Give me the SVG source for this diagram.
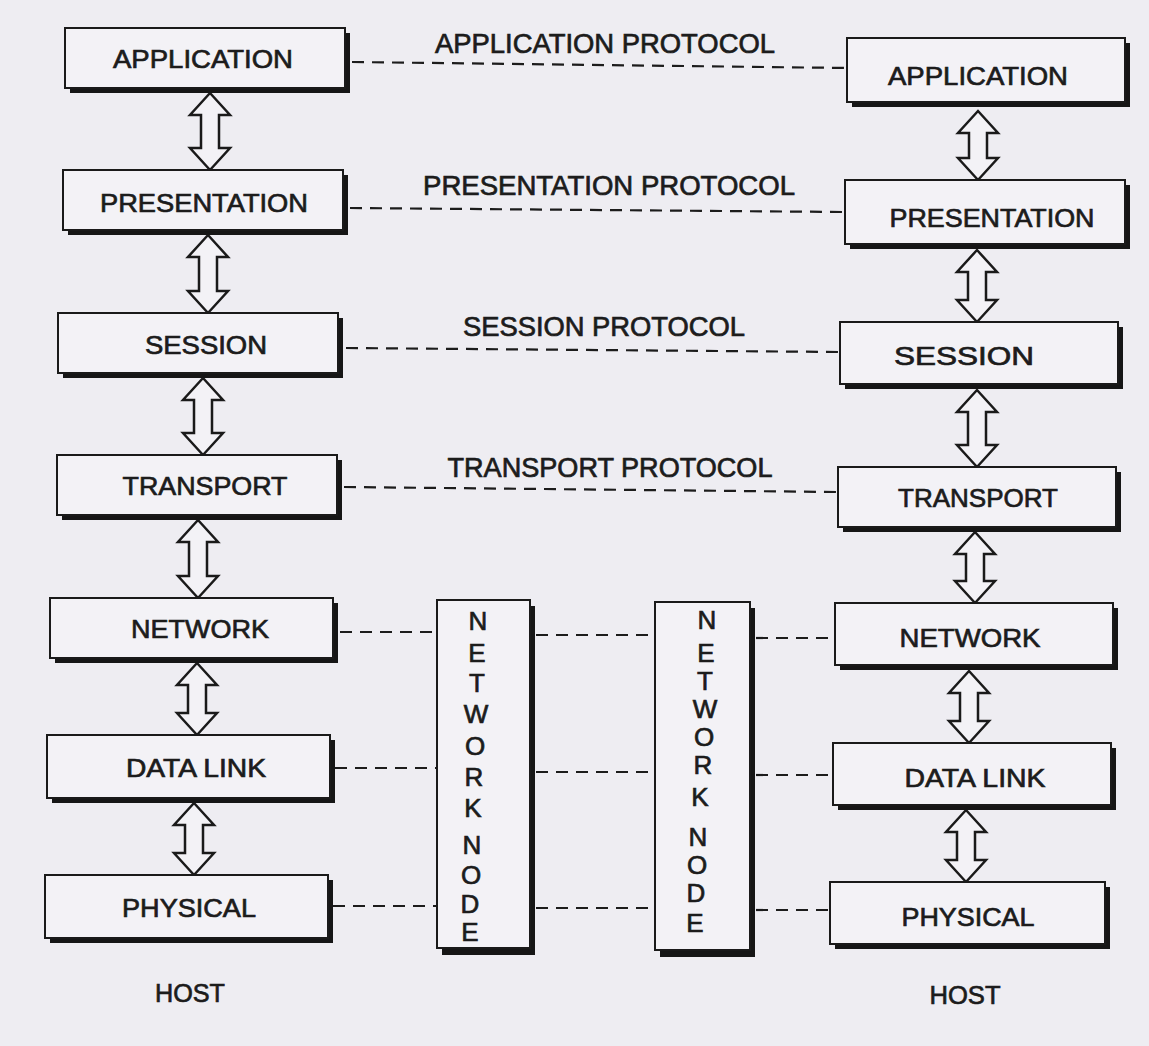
<svg xmlns="http://www.w3.org/2000/svg" width="1149" height="1046" viewBox="0 0 1149 1046">
<style>
  .bg { fill: #eeedf2; }
  .shadow { fill: #161616; }
  .box { fill: #f3f2f6; stroke: #1a1a1a; stroke-width: 2; }
  .lbl { font-family: "Liberation Sans", Arial, sans-serif; font-size: 26px; fill: #1c1c1c; stroke: #1c1c1c; stroke-width: 0.7; text-anchor: middle; }
  .proto { font-family: "Liberation Sans", Arial, sans-serif; font-size: 27px; fill: #1c1c1c; stroke: #1c1c1c; stroke-width: 0.7; text-anchor: middle; }
  .letter { font-family: "Liberation Sans", Arial, sans-serif; font-size: 26px; fill: #1c1c1c; stroke: #1c1c1c; stroke-width: 0.7; text-anchor: middle; dominant-baseline: central; }
  .dash { fill: none; stroke: #1c1c1c; stroke-width: 2.2; stroke-dasharray: 12 8; }
  .arrow { fill: #f3f2f6; stroke: #1a1a1a; stroke-width: 2.5; stroke-linejoin: miter; }
</style>
<rect class="bg" x="0" y="0" width="1149" height="1046"/>

<!-- Connectors -->
<g id="connectors">
  <!-- protocol dashed lines -->
  <path class="dash" d="M 352 62 L 847 68"/>
  <path class="dash" d="M 350 208 L 845 212"/>
  <path class="dash" d="M 346 348 L 840 352"/>
  <path class="dash" d="M 344 487 L 838 492"/>
  <!-- lower layer dashed lines via network nodes -->
  <path class="dash" d="M 340 632 L 437 632"/>
  <path class="dash" d="M 536 635 L 655 635"/>
  <path class="dash" d="M 756 638 L 835 638"/>
  <path class="dash" d="M 335 768 L 437 768"/>
  <path class="dash" d="M 536 772 L 655 772"/>
  <path class="dash" d="M 756 775 L 833 775"/>
  <path class="dash" d="M 333 906 L 437 906"/>
  <path class="dash" d="M 536 908 L 655 908"/>
  <path class="dash" d="M 756 910 L 830 910"/>
  <!-- left vertical double arrows -->
  <path class="arrow" d="M 210 93 L 230 115 L 219 115 L 219 148 L 230 148 L 210 170 L 190 148 L 201 148 L 201 115 L 190 115 Z"/>
  <path class="arrow" d="M 208 235 L 228 257 L 217 257 L 217 291 L 228 291 L 208 313 L 188 291 L 199 291 L 199 257 L 188 257 Z"/>
  <path class="arrow" d="M 203 378 L 223 400 L 212 400 L 212 433 L 223 433 L 203 455 L 183 433 L 194 433 L 194 400 L 183 400 Z"/>
  <path class="arrow" d="M 198 520 L 218 542 L 207 542 L 207 576 L 218 576 L 198 598 L 178 576 L 189 576 L 189 542 L 178 542 Z"/>
  <path class="arrow" d="M 197 663 L 217 685 L 206 685 L 206 713 L 217 713 L 197 735 L 177 713 L 188 713 L 188 685 L 177 685 Z"/>
  <path class="arrow" d="M 194 803 L 214 825 L 203 825 L 203 853 L 214 853 L 194 875 L 174 853 L 185 853 L 185 825 L 174 825 Z"/>
  <!-- right vertical double arrows -->
  <path class="arrow" d="M 978 111 L 998 133 L 987 133 L 987 158 L 998 158 L 978 180 L 958 158 L 969 158 L 969 133 L 958 133 Z"/>
  <path class="arrow" d="M 977 250 L 997 272 L 986 272 L 986 300 L 997 300 L 977 322 L 957 300 L 968 300 L 968 272 L 957 272 Z"/>
  <path class="arrow" d="M 977 390 L 997 412 L 986 412 L 986 445 L 997 445 L 977 467 L 957 445 L 968 445 L 968 412 L 957 412 Z"/>
  <path class="arrow" d="M 975 532 L 995 554 L 984 554 L 984 581 L 995 581 L 975 603 L 955 581 L 966 581 L 966 554 L 955 554 Z"/>
  <path class="arrow" d="M 969 671 L 989 693 L 978 693 L 978 721 L 989 721 L 969 743 L 949 721 L 960 721 L 960 693 L 949 693 Z"/>
  <path class="arrow" d="M 966 810 L 986 832 L 975 832 L 975 860 L 986 860 L 966 882 L 946 860 L 957 860 L 957 832 L 946 832 Z"/>
</g>

<!-- Protocol labels -->
<g id="protocol-labels">
  <text class="proto" x="605" y="53" textLength="340" lengthAdjust="spacingAndGlyphs">APPLICATION PROTOCOL</text>
  <text class="proto" x="609" y="195" textLength="372" lengthAdjust="spacingAndGlyphs">PRESENTATION PROTOCOL</text>
  <text class="proto" x="604" y="336" textLength="282" lengthAdjust="spacingAndGlyphs">SESSION PROTOCOL</text>
  <text class="proto" x="610" y="477" textLength="325" lengthAdjust="spacingAndGlyphs">TRANSPORT PROTOCOL</text>
</g>

<!-- Left host stack -->
<g id="left-application">
  <rect class="shadow" x="70" y="33" width="280" height="60"/>
  <rect class="box" x="65" y="28" width="280" height="60"/>
  <text class="lbl" x="203" y="68" textLength="180" lengthAdjust="spacingAndGlyphs">APPLICATION</text>
</g>
<g id="left-presentation">
  <rect class="shadow" x="68" y="175" width="280" height="60"/>
  <rect class="box" x="63" y="170" width="280" height="60"/>
  <text class="lbl" x="204" y="212" textLength="208" lengthAdjust="spacingAndGlyphs">PRESENTATION</text>
</g>
<g id="left-session">
  <rect class="shadow" x="63" y="318" width="280" height="60"/>
  <rect class="box" x="58" y="313" width="280" height="60"/>
  <text class="lbl" x="206" y="354" textLength="122" lengthAdjust="spacingAndGlyphs">SESSION</text>
</g>
<g id="left-transport">
  <rect class="shadow" x="62" y="460" width="280" height="60"/>
  <rect class="box" x="57" y="455" width="280" height="60"/>
  <text class="lbl" x="205" y="495" textLength="165" lengthAdjust="spacingAndGlyphs">TRANSPORT</text>
</g>
<g id="left-network">
  <rect class="shadow" x="55" y="603" width="283" height="60"/>
  <rect class="box" x="50" y="598" width="283" height="60"/>
  <text class="lbl" x="200" y="638" textLength="138" lengthAdjust="spacingAndGlyphs">NETWORK</text>
</g>
<g id="left-datalink">
  <rect class="shadow" x="52" y="740" width="283" height="63"/>
  <rect class="box" x="47" y="735" width="283" height="63"/>
  <text class="lbl" x="196" y="777" textLength="140" lengthAdjust="spacingAndGlyphs">DATA LINK</text>
</g>
<g id="left-physical">
  <rect class="shadow" x="50" y="880" width="283" height="63"/>
  <rect class="box" x="45" y="875" width="283" height="63"/>
  <text class="lbl" x="189" y="917" textLength="134" lengthAdjust="spacingAndGlyphs">PHYSICAL</text>
</g>
<g id="left-host">
  <text class="lbl" x="190" y="1002" textLength="70" lengthAdjust="spacingAndGlyphs">HOST</text>
</g>

<!-- Network nodes -->
<g id="network-node-left">
  <rect class="shadow" x="442" y="606" width="93" height="349"/>
  <rect class="box" x="437" y="600" width="93" height="348"/>
  <text class="letter" x="478" y="621">N</text>
  <text class="letter" x="477" y="653">E</text>
  <text class="letter" x="477" y="683">T</text>
  <text class="letter" x="476" y="714">W</text>
  <text class="letter" x="475" y="746">O</text>
  <text class="letter" x="474" y="777">R</text>
  <text class="letter" x="473" y="808">K</text>
  <text class="letter" x="472" y="845">N</text>
  <text class="letter" x="471" y="875">O</text>
  <text class="letter" x="470" y="904">D</text>
  <text class="letter" x="470" y="932">E</text>
</g>
<g id="network-node-right">
  <rect class="shadow" x="660" y="608" width="95" height="349"/>
  <rect class="box" x="655" y="602" width="95" height="348"/>
  <text class="letter" x="707" y="620">N</text>
  <text class="letter" x="706" y="653">E</text>
  <text class="letter" x="705" y="681">T</text>
  <text class="letter" x="705" y="709">W</text>
  <text class="letter" x="704" y="737">O</text>
  <text class="letter" x="703" y="765">R</text>
  <text class="letter" x="700" y="797">K</text>
  <text class="letter" x="698" y="837">N</text>
  <text class="letter" x="697" y="865">O</text>
  <text class="letter" x="696" y="893">D</text>
  <text class="letter" x="695" y="923">E</text>
</g>

<!-- Right host stack -->
<g id="right-application">
  <rect class="shadow" x="852" y="43" width="278" height="64"/>
  <rect class="box" x="847" y="38" width="278" height="64"/>
  <text class="lbl" x="978" y="85" textLength="180" lengthAdjust="spacingAndGlyphs">APPLICATION</text>
</g>
<g id="right-presentation">
  <rect class="shadow" x="850" y="185" width="280" height="64"/>
  <rect class="box" x="845" y="180" width="280" height="64"/>
  <text class="lbl" x="992" y="227" textLength="205" lengthAdjust="spacingAndGlyphs">PRESENTATION</text>
</g>
<g id="right-session">
  <rect class="shadow" x="845" y="327" width="278" height="62"/>
  <rect class="box" x="840" y="322" width="278" height="62"/>
  <text class="lbl" x="964" y="365" textLength="140" lengthAdjust="spacingAndGlyphs">SESSION</text>
</g>
<g id="right-transport">
  <rect class="shadow" x="843" y="472" width="278" height="60"/>
  <rect class="box" x="838" y="467" width="278" height="60"/>
  <text class="lbl" x="978" y="507" textLength="160" lengthAdjust="spacingAndGlyphs">TRANSPORT</text>
</g>
<g id="right-network">
  <rect class="shadow" x="840" y="608" width="278" height="62"/>
  <rect class="box" x="835" y="603" width="278" height="62"/>
  <text class="lbl" x="970" y="647" textLength="141" lengthAdjust="spacingAndGlyphs">NETWORK</text>
</g>
<g id="right-datalink">
  <rect class="shadow" x="838" y="748" width="278" height="62"/>
  <rect class="box" x="833" y="743" width="278" height="62"/>
  <text class="lbl" x="975" y="787" textLength="141" lengthAdjust="spacingAndGlyphs">DATA LINK</text>
</g>
<g id="right-physical">
  <rect class="shadow" x="835" y="887" width="275" height="62"/>
  <rect class="box" x="830" y="882" width="275" height="62"/>
  <text class="lbl" x="968" y="926" textLength="133" lengthAdjust="spacingAndGlyphs">PHYSICAL</text>
</g>
<g id="right-host">
  <text class="lbl" x="965" y="1004" textLength="71" lengthAdjust="spacingAndGlyphs">HOST</text>
</g>
</svg>
